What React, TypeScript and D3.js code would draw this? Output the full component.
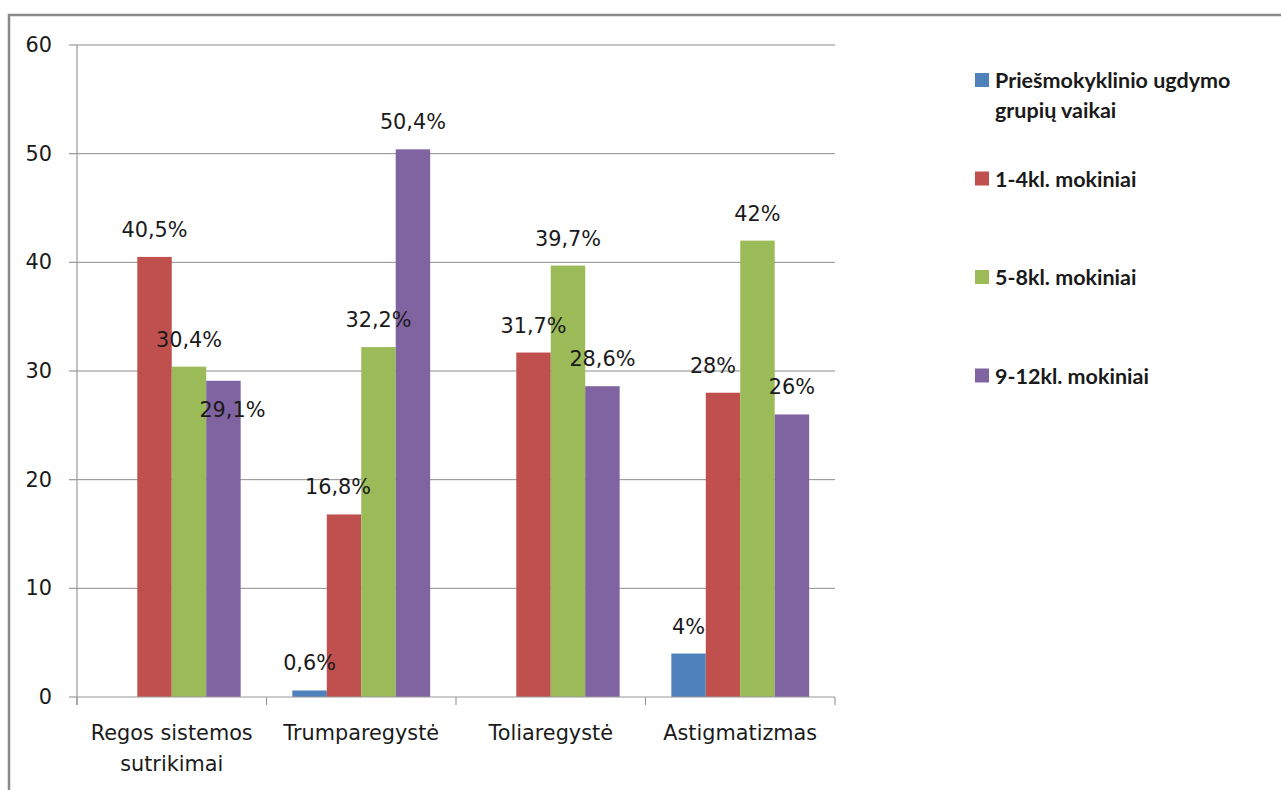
import * as d3 from 'd3';

// categories, series and values
const categories = ['Regos sistemos\nsutrikimai', 'Trumparegystė', 'Toliaregystė', 'Astigmatizmas'];
const seriesNames = ['Priešmokyklinio ugdymo\ngrupių vaikai', '1-4kl. mokiniai', '5-8kl. mokiniai', '9-12kl. mokiniai'];
const preschool: (number | null)[] = [null, 0.6, null, 4];
const grade1to4: (number | null)[] = [40.5, 16.8, 31.7, 28];
const grade5to8: (number | null)[] = [30.4, 32.2, 39.7, 42];
const grade9to12: (number | null)[] = [29.1, 50.4, 28.6, 26];
const yTicks = [0, 10, 20, 30, 40, 50, 60];

const colors = ['#4F81BD', '#C0504D', '#9BBB59', '#8064A2'];

// a few labels that the original chart nudged to avoid overlap (cat-series -> dx, dy)
const labelShift: Record<string, [number, number]> = {
  '0-3': [9, 56],
  '1-1': [-6, 0],
  '3-1': [-10, 0],
};

const W = 1281;
const H = 790;
const margin = { top: 45, left: 77, right: 446, bottom: 93 };
const FONT = '"DejaVu Sans", sans-serif';
const FS = 20.8;

export default function App() {
  const series = [preschool, grade1to4, grade5to8, grade9to12];
  const innerW = W - margin.left - margin.right;
  const innerH = H - margin.top - margin.bottom;

  const x = d3.scaleBand<number>()
    .domain(categories.map((_, i) => i))
    .range([margin.left, margin.left + innerW])
    .paddingInner(0)
    .paddingOuter(0);

  const bw = x.bandwidth();
  // Excel gap width 150%: bar width = band / (4 + 1.5)
  const barW = bw / (series.length + 1.5);
  const gap = (bw - barW * series.length) / 2;

  const y = d3.scaleLinear().domain([0, 60]).range([margin.top + innerH, margin.top]);

  const fmt = (v: number) => String(v).replace('.', ',') + '%';

  return (
    <svg width={W} height={H} style={{ position: 'fixed', top: 0, left: 0, background: '#fff' }}>
      {/* outer frame */}
      <path d={`M9,${H} L9,15 L${W},15`} fill="none" stroke="#8a8a8a" strokeWidth={2.5} />

      {/* grid lines */}
      {yTicks.slice(1).map(t => (
        <line key={t} x1={margin.left} x2={margin.left + innerW} y1={y(t)} y2={y(t)} stroke="#8c8c8c" strokeWidth={1} />
      ))}

      {/* y axis */}
      <line x1={margin.left} x2={margin.left} y1={margin.top} y2={y(0) + 8} stroke="#9a9a9a" strokeWidth={1.2} />
      {yTicks.map(t => (
        <g key={t}>
          <line x1={margin.left - 8} x2={margin.left} y1={y(t)} y2={y(t)} stroke="#9a9a9a" strokeWidth={1.2} />
          <text x={52} y={y(t)} textAnchor="end" dominantBaseline="central" fontFamily={FONT} fontSize={FS} fill="#1a1a1a">{t}</text>
        </g>
      ))}

      {/* bars */}
      {series.map((vals, s) => vals.map((v, c) => v == null ? null : (
        <rect key={`${s}-${c}`}
          x={x(c)! + gap + s * barW}
          y={y(v)}
          width={barW}
          height={y(0) - y(v)}
          fill={colors[s]} />
      )))}

      {/* x axis */}
      <line x1={margin.left} x2={margin.left + innerW} y1={y(0)} y2={y(0)} stroke="#9a9a9a" strokeWidth={1.2} />
      {categories.map((_, i) => i).concat([categories.length]).map(i => {
        const xx = margin.left + i * bw;
        return <line key={i} x1={xx} x2={xx} y1={y(0)} y2={y(0) + 8} stroke="#9a9a9a" strokeWidth={1.2} />;
      })}
      {categories.map((c, i) => (
        <text key={i} x={x(i)! + bw / 2} y={733} textAnchor="middle" dominantBaseline="central" fontFamily={FONT} fontSize={FS} fill="#1a1a1a">
          {c.split('\n').map((line, k) => (
            <tspan key={k} x={x(i)! + bw / 2} dy={k === 0 ? 0 : 31}>{line}</tspan>
          ))}
        </text>
      ))}

      {/* data labels */}
      {series.map((vals, s) => vals.map((v, c) => {
        if (v == null) return null;
        const [dx, dy] = labelShift[`${c}-${s}`] || [0, 0];
        return (
          <text key={`l${s}-${c}`}
            x={x(c)! + gap + s * barW + barW / 2 + dx}
            y={y(v) - 27 + dy}
            textAnchor="middle" dominantBaseline="central"
            fontFamily={FONT} fontSize={FS} fill="#1a1a1a">
            {fmt(v)}
          </text>
        );
      }))}

      {/* legend */}
      {seriesNames.map((name, s) => {
        const cy = 80 + s * 98.5;
        return (
          <g key={s}>
            <rect x={975} y={cy - 7} width={14} height={14} fill={colors[s]} />
            <text x={995} y={cy} dominantBaseline="central" fontFamily='Lato, "Liberation Sans", sans-serif' fontWeight="bold" fontSize={21.5} fill="#1a1a1a">
              {name.split('\n').map((line, k) => (
                <tspan key={k} x={995} dy={k === 0 ? 0 : 30}>{line}</tspan>
              ))}
            </text>
          </g>
        );
      })}
    </svg>
  );
}
